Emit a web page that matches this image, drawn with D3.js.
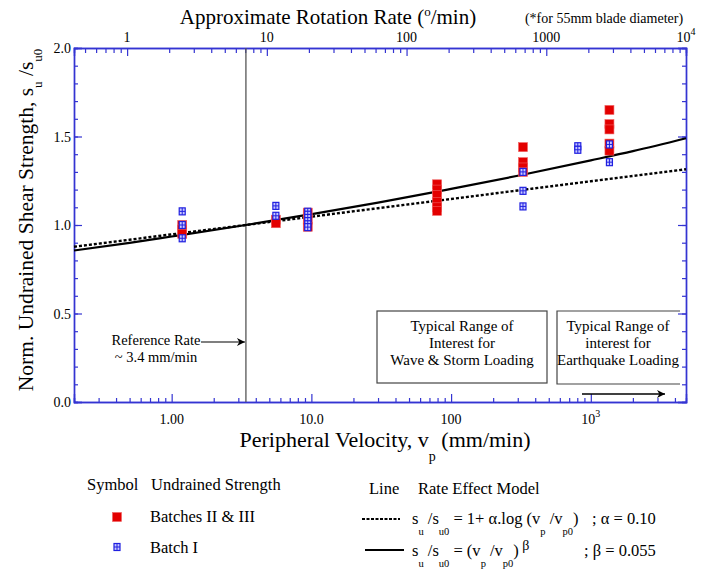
<!DOCTYPE html>
<html><head><meta charset="utf-8">
<script src="https://cdn.jsdelivr.net/npm/d3@7"></script>
<style>body{margin:0;background:#fff}svg{display:block}text{font-family:"Liberation Serif","Times New Roman",serif;fill:#000}</style>
</head><body><svg id="c" width="706" height="573"></svg>
<script>
// ---- data ----
const velDomain = [0.2, 4800];            // peripheral velocity range, mm/min
const rotFactor = 360 / (Math.PI * 55);   // deg/min per mm/min for 55mm blade
const yDomain = [0, 2];
const velTicks = [1, 10, 100, 1000];
const velTickLabels = ["1.00", "10.0", "100", "10^3"];
const rotTicks = [1, 10, 100, 1000, 10000];
const rotTickLabels = ["1", "10", "100", "1000", "10^4"];
const yTicks = [0, 0.5, 1.0, 1.5, 2.0];
const yTickLabels = ["0.0", "0.5", "1.0", "1.5", "2.0"];
const refRate = 3.4;

const batch23V = [1.19,1.19,1.19, 5.57,5.57, 9.42,9.42,9.42, 79.4,79.4,79.4,79.4,79.4,79.4, 327,327,327,327, 1359,1359,1359,1359,1359];
const batch23S = [1.00,0.975,0.95, 1.03,1.01, 1.07,1.03,0.99, 1.23,1.20,1.17,1.13,1.10,1.08, 1.44,1.355,1.325,1.30, 1.65,1.57,1.54,1.46,1.42];
const batch1V = [1.19,1.19,1.19, 5.57,5.57, 9.42,9.42,9.42,9.42,9.42,9.42, 327,327,327, 807,807, 1359,1359];
const batch1S = [1.077,1.0,0.925, 1.108,1.052, 1.075,1.058,1.04,1.022,1.004,0.988, 1.30,1.193,1.105, 1.445,1.425, 1.455,1.355];

const modelV = [0.2, 0.5, 1, 3.4, 10, 30, 100, 300, 1000, 2000, 4800];
const linearModelS = [0.877, 0.917, 0.947, 1.0, 1.047, 1.095, 1.147, 1.195, 1.247, 1.277, 1.315];
const powerModelS = [0.856, 0.899, 0.935, 1.0, 1.061, 1.126, 1.204, 1.278, 1.365, 1.417, 1.49];

// ---- layout ----
const svg = d3.select("#c");
const L = 74, R = 686, T = 48, B = 402;
const axisCol = "#3434d2";
const x = d3.scaleLog().domain(velDomain).range([L, R]);
const xTop = d3.scaleLog().domain(velDomain.map(v => v * rotFactor)).range([L, R]);
const y = d3.scaleLinear().domain(yDomain).range([B, T]);

// ---- axes ----
function styleAxis(g){ g.selectAll("path,line").attr("stroke", axisCol).attr("stroke-width",1.2); g.select(".domain").attr("stroke-width",1.4); }
function minorLog(sc){ const out=[]; const [a,b]=sc.domain(); for(let e=Math.floor(Math.log10(a));e<=Math.ceil(Math.log10(b));e++){for(let k=2;k<10;k++){const v=k*Math.pow(10,e); if(v>=a*0.999&&v<=b*1.001) out.push(v);}} return out; }
const yMinor = d3.range(0, 2.0001, 0.1).map(v => +v.toFixed(2));

svg.append("g").attr("transform",`translate(0,${B})`).call(d3.axisTop(x).tickValues(minorLog(x)).tickSize(4).tickFormat("")).call(styleAxis);
svg.append("g").attr("transform",`translate(0,${B})`).call(d3.axisTop(x).tickValues(velTicks).tickSize(8).tickFormat("")).call(styleAxis);
svg.append("g").attr("transform",`translate(0,${T})`).call(d3.axisBottom(xTop).tickValues(minorLog(xTop)).tickSize(5).tickFormat("")).call(styleAxis);
svg.append("g").attr("transform",`translate(0,${T})`).call(d3.axisBottom(xTop).tickValues(rotTicks).tickSize(8).tickFormat("")).call(styleAxis);
svg.append("g").attr("transform",`translate(${L},0)`).call(d3.axisRight(y).tickValues(yMinor).tickSize(4).tickFormat("")).call(styleAxis);
svg.append("g").attr("transform",`translate(${L},0)`).call(d3.axisRight(y).tickValues(yTicks).tickSize(8).tickFormat("")).call(styleAxis);
svg.append("g").attr("transform",`translate(${R},0)`).call(d3.axisLeft(y).tickValues(yMinor).tickSize(4).tickFormat("")).call(styleAxis);
svg.append("g").attr("transform",`translate(${R},0)`).call(d3.axisLeft(y).tickValues(yTicks).tickSize(8).tickFormat("")).call(styleAxis);

function powLabel(sel, s){
  const m = s.split("^");
  sel.text(m[0]);
  if (m[1]) sel.append("tspan").attr("dy",-7).attr("font-size",10).text(m[1]);
}
velTicks.forEach((v,i)=>{ svg.append("text").attr("x",x(v)).attr("y",B+22).attr("text-anchor","middle").attr("font-size",14).call(powLabel, velTickLabels[i]); });
rotTicks.forEach((v,i)=>{ svg.append("text").attr("x",xTop(v)).attr("y",T-6).attr("text-anchor","middle").attr("font-size",14).call(powLabel, rotTickLabels[i]); });
yTicks.forEach((v,i)=>{ svg.append("text").attr("x",L-3).attr("y",y(v)+5).attr("text-anchor","end").attr("font-size",14).text(yTickLabels[i]); });

// titles
const tt = svg.append("text").attr("x",328).attr("y",24).attr("text-anchor","middle").attr("font-size",21);
tt.append("tspan").text("Approximate Rotation Rate (");
tt.append("tspan").attr("dy",-8).attr("font-size",13).text("o");
tt.append("tspan").attr("dy",8).text("/min)");
svg.append("text").attr("x",604).attr("y",23).attr("text-anchor","middle").attr("font-size",14).text("(*for 55mm blade diameter)");

const bt = svg.append("text").attr("x",385).attr("y",447).attr("text-anchor","middle").attr("font-size",22);
bt.append("tspan").text("Peripheral Velocity, v");
bt.append("tspan").attr("dy",14).attr("font-size",14).text("p");
bt.append("tspan").attr("dy",-14).text(" (mm/min)");

const yt = svg.append("text").attr("transform","translate(33,220) rotate(-90)").attr("text-anchor","middle").attr("font-size",21.5);
yt.append("tspan").text("Norm. Undrained Shear Strength, s");
yt.append("tspan").attr("dy",9).attr("font-size",13).text("u");
yt.append("tspan").attr("dy",-9).text(" /s");
yt.append("tspan").attr("dy",9).attr("font-size",13).text("u0");

// reference rate line
svg.append("line").attr("x1",x(refRate)).attr("x2",x(refRate)).attr("y1",T).attr("y2",B).attr("stroke","#555").attr("stroke-width",1.3);

svg.append("defs").append("marker").attr("id","ah").attr("viewBox","0 0 10 10").attr("refX",10).attr("refY",5)
  .attr("markerWidth",10).attr("markerHeight",8).attr("markerUnits","userSpaceOnUse").attr("orient","auto")
  .append("path").attr("d","M0,0 L10,5 L0,10 L3,5 Z").attr("fill","#000");

svg.append("text").attr("x",156).attr("y",345).attr("text-anchor","middle").attr("font-size",14.5).text("Reference Rate");
svg.append("text").attr("x",156).attr("y",362).attr("text-anchor","middle").attr("font-size",14.5).text("~ 3.4 mm/min");
svg.append("line").attr("x1",201).attr("x2",x(refRate)-1).attr("y1",342).attr("y2",342).attr("stroke","#000").attr("stroke-width",1.2).attr("marker-end","url(#ah)");

// boxes
svg.append("rect").attr("x",377).attr("y",311).attr("width",170).attr("height",72).attr("fill","none").attr("stroke","#444").attr("stroke-width",1.2);
["Typical Range of","Interest for","Wave & Storm Loading"].forEach((s,i)=>svg.append("text").attr("x",462).attr("y",331+i*17).attr("text-anchor","middle").attr("font-size",15).text(s));
svg.append("path").attr("d","M680,311 H557 V384 H680").attr("fill","none").attr("stroke","#444").attr("stroke-width",1.2);
["Typical Range of","interest for","Earthquake Loading"].forEach((s,i)=>svg.append("text").attr("x",618).attr("y",331+i*17).attr("text-anchor","middle").attr("font-size",15).text(s));
svg.append("line").attr("x1",582).attr("x2",665).attr("y1",394).attr("y2",394).attr("stroke","#000").attr("stroke-width",1.3).attr("marker-end","url(#ah)");

// model lines
const line = d3.line().x((d,i)=>x(modelV[i])).y(d=>y(d)).curve(d3.curveMonotoneX);
svg.append("path").attr("d",line(linearModelS)).attr("fill","none").attr("stroke","#000").attr("stroke-width",2.4).attr("stroke-dasharray","3,2");
svg.append("path").attr("d",line(powerModelS)).attr("fill","none").attr("stroke","#000").attr("stroke-width",2.2);

// markers
function redSq(g, cx, cy){ g.append("rect").attr("x",cx-4.5).attr("y",cy-4.5).attr("width",9).attr("height",9).attr("fill","#e30000").attr("stroke","#f06060").attr("stroke-width",0.6); }
function blueSq(g, cx, cy){
  g.append("rect").attr("x",cx-3).attr("y",cy-3.5).attr("width",6).attr("height",7).attr("fill","#c8c8ff").attr("stroke","#2020e0").attr("stroke-width",1.2);
  g.append("line").attr("x1",cx).attr("x2",cx).attr("y1",cy-3.5).attr("y2",cy+3.5).attr("stroke","#2020e0").attr("stroke-width",1);
  g.append("line").attr("x1",cx-3).attr("x2",cx+3).attr("y1",cy).attr("y2",cy).attr("stroke","#2020e0").attr("stroke-width",1);
}
const gR = svg.append("g"); batch23V.forEach((v,i)=>redSq(gR, x(v), y(batch23S[i])));
const gB = svg.append("g"); batch1V.forEach((v,i)=>blueSq(gB, x(v), y(batch1S[i])));

// legend
svg.append("text").attr("x",87).attr("y",490).attr("font-size",16.5).text("Symbol");
svg.append("text").attr("x",151).attr("y",490).attr("font-size",16.5).text("Undrained Strength");
redSq(svg, 117, 517);
svg.append("text").attr("x",150).attr("y",522).attr("font-size",16.5).text("Batches II & III");
blueSq(svg, 117, 547);
svg.append("text").attr("x",150).attr("y",553).attr("font-size",16.5).text("Batch I");
svg.append("text").attr("x",369).attr("y",494).attr("font-size",16.5).text("Line");
svg.append("text").attr("x",418).attr("y",494).attr("font-size",16.5).text("Rate Effect Model");
svg.append("line").attr("x1",362).attr("x2",400).attr("y1",519).attr("y2",519).attr("stroke","#000").attr("stroke-width",2).attr("stroke-dasharray","3,1.5");
svg.append("line").attr("x1",365).attr("x2",404).attr("y1",550).attr("y2",550).attr("stroke","#000").attr("stroke-width",2);
function sub(t, s){ t.append("tspan").attr("dy",11).attr("font-size",10.5).text(s); }
const f1 = svg.append("text").attr("x",412).attr("y",524).attr("font-size",16.5);
f1.append("tspan").text("s"); sub(f1,"u"); f1.append("tspan").attr("dy",-11).text(" /s"); sub(f1,"u0");
f1.append("tspan").attr("dy",-11).text(" = 1+ α.log (v"); sub(f1,"p"); f1.append("tspan").attr("dy",-11).text(" /v"); sub(f1,"p0"); f1.append("tspan").attr("dy",-11).text(")");
svg.append("text").attr("x",592).attr("y",524).attr("font-size",16.5).text("; α = 0.10");
const f2 = svg.append("text").attr("x",412).attr("y",556).attr("font-size",16.5);
f2.append("tspan").text("s"); sub(f2,"u"); f2.append("tspan").attr("dy",-11).text(" /s"); sub(f2,"u0");
f2.append("tspan").attr("dy",-11).text(" = (v"); sub(f2,"p"); f2.append("tspan").attr("dy",-11).text(" /v"); sub(f2,"p0"); f2.append("tspan").attr("dy",-11).text(")");
f2.append("tspan").attr("dy",-6).attr("font-size",14).text(" β");
svg.append("text").attr("x",584).attr("y",556).attr("font-size",16.5).text(";  β = 0.055");
</script></body></html>
